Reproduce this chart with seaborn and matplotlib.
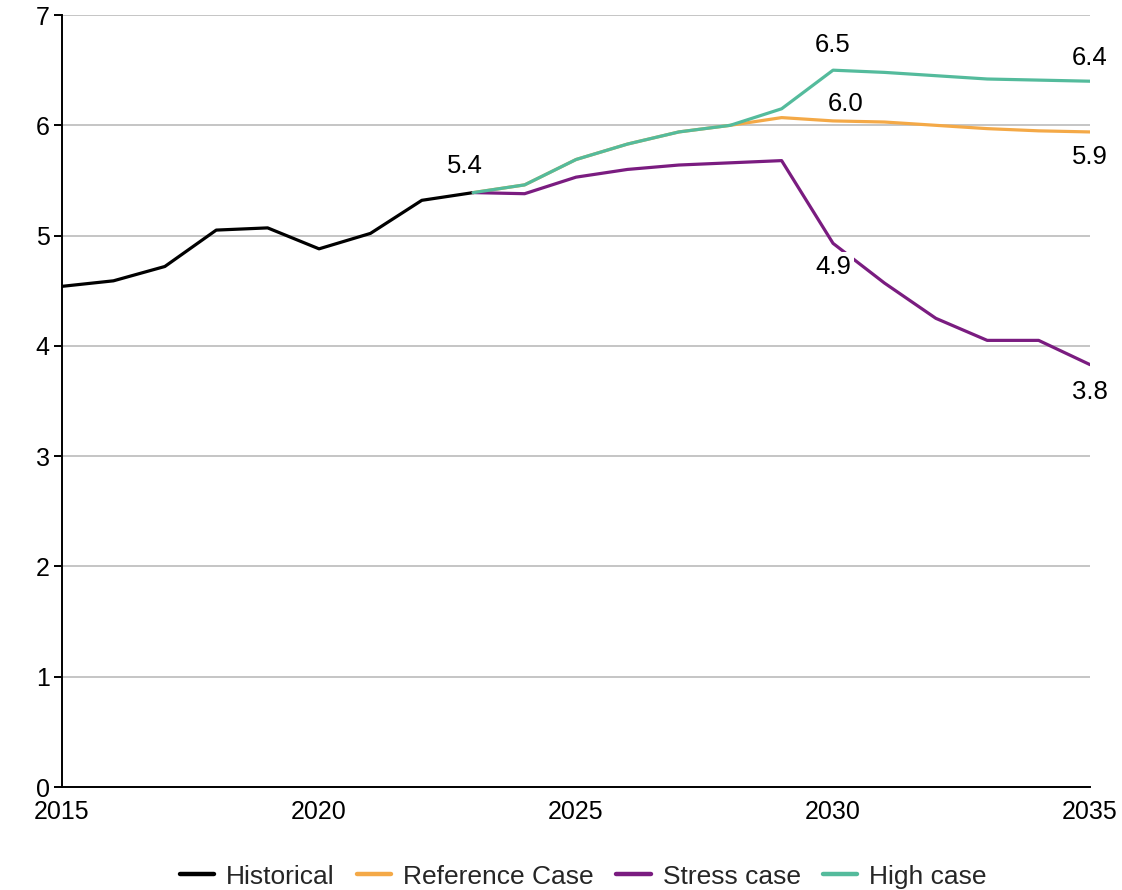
import matplotlib
matplotlib.use("Agg")
import matplotlib.pyplot as plt
import seaborn as sns
import pandas as pd

# Series values by year
hist_years = list(range(2015, 2024))
hist_vals = [4.54, 4.59, 4.72, 5.05, 5.07, 4.88, 5.02, 5.32, 5.39]

proj_years = list(range(2023, 2036))
reference_vals = [5.39, 5.46, 5.69, 5.83, 5.94, 6.00, 6.07, 6.04, 6.03, 6.00, 5.97, 5.95, 5.94]
stress_vals = [5.39, 5.38, 5.53, 5.60, 5.64, 5.66, 5.68, 4.93, 4.57, 4.25, 4.05, 4.05, 3.83]
high_vals = [5.39, 5.46, 5.69, 5.83, 5.94, 6.00, 6.15, 6.50, 6.48, 6.45, 6.42, 6.41, 6.40]

series_names = ["Historical", "Reference Case", "Stress case", "High case"]
series_colors = ["#000000", "#F4A947", "#7A1C80", "#54BB9C"]

x_ticks = [2015, 2020, 2025, 2030, 2035]
y_ticks = [0, 1, 2, 3, 4, 5, 6, 7]

frames = [
    pd.DataFrame({"year": hist_years, "value": hist_vals, "series": series_names[0]}),
    pd.DataFrame({"year": proj_years, "value": reference_vals, "series": series_names[1]}),
    pd.DataFrame({"year": proj_years, "value": stress_vals, "series": series_names[2]}),
    pd.DataFrame({"year": proj_years, "value": high_vals, "series": series_names[3]}),
]
df = pd.concat(frames, ignore_index=True)

sns.set_theme(style="white")
plt.rcParams["font.family"] = ["Liberation Sans", "DejaVu Sans"]

fig = plt.figure(figsize=(11.22, 8.9), dpi=100)
ax = fig.add_axes([0.0553, 0.1157, 0.9162, 0.8674])

sns.lineplot(
    data=df, x="year", y="value", hue="series",
    hue_order=series_names, palette=dict(zip(series_names, series_colors)),
    linewidth=2.3, ax=ax,
)

ax.set_xlim(2015, 2035)
ax.set_ylim(0, 7)
ax.set_xticks(x_ticks)
ax.set_yticks(y_ticks)
ax.set_xlabel("")
ax.set_ylabel("")
ax.yaxis.grid(True, color="#C0C0C0", linewidth=1.3)
ax.xaxis.grid(False)
ax.set_axisbelow(True)

for side in ["top", "right"]:
    ax.spines[side].set_visible(False)
for side in ["left", "bottom"]:
    ax.spines[side].set_color("black")
    ax.spines[side].set_linewidth(1.4)

ax.tick_params(axis="y", which="major", left=True, length=6, width=1.4,
               color="black", labelsize=18, pad=3, labelcolor="black")
ax.tick_params(axis="x", which="major", bottom=False, length=0,
               labelsize=18, pad=9, labelcolor="black")

# Point labels
label_specs = [
    (2023, hist_vals[-1], (-6, 19), None),
    (2030, high_vals[7], (0, 18), None),
    (2030, reference_vals[7], (9, 12), None),
    (2035, high_vals[-1], (0, 17), None),
    (2035, reference_vals[-1], (0, -18), None),
    (2030, stress_vals[7], (0, -17), dict(boxstyle="square,pad=0.12", fc="white", ec="none")),
    (2035, stress_vals[-1], (0, -20), None),
]
for xv, yv, off, box in label_specs:
    ax.annotate(f"{yv:.1f}", xy=(xv, yv), xytext=off, textcoords="offset points",
                ha="center", va="center", fontsize=18.5, color="black",
                bbox=box, annotation_clip=False, zorder=5)

sns.move_legend(
    ax, "center", bbox_to_anchor=(0.507, -0.116), ncol=4, frameon=False,
    title=None, fontsize=19, handlelength=1.3, handletextpad=0.45, columnspacing=0.85,
)
for handle in ax.get_legend().get_lines():
    handle.set_linewidth(3.2)

fig.savefig("out.png", dpi=100)
